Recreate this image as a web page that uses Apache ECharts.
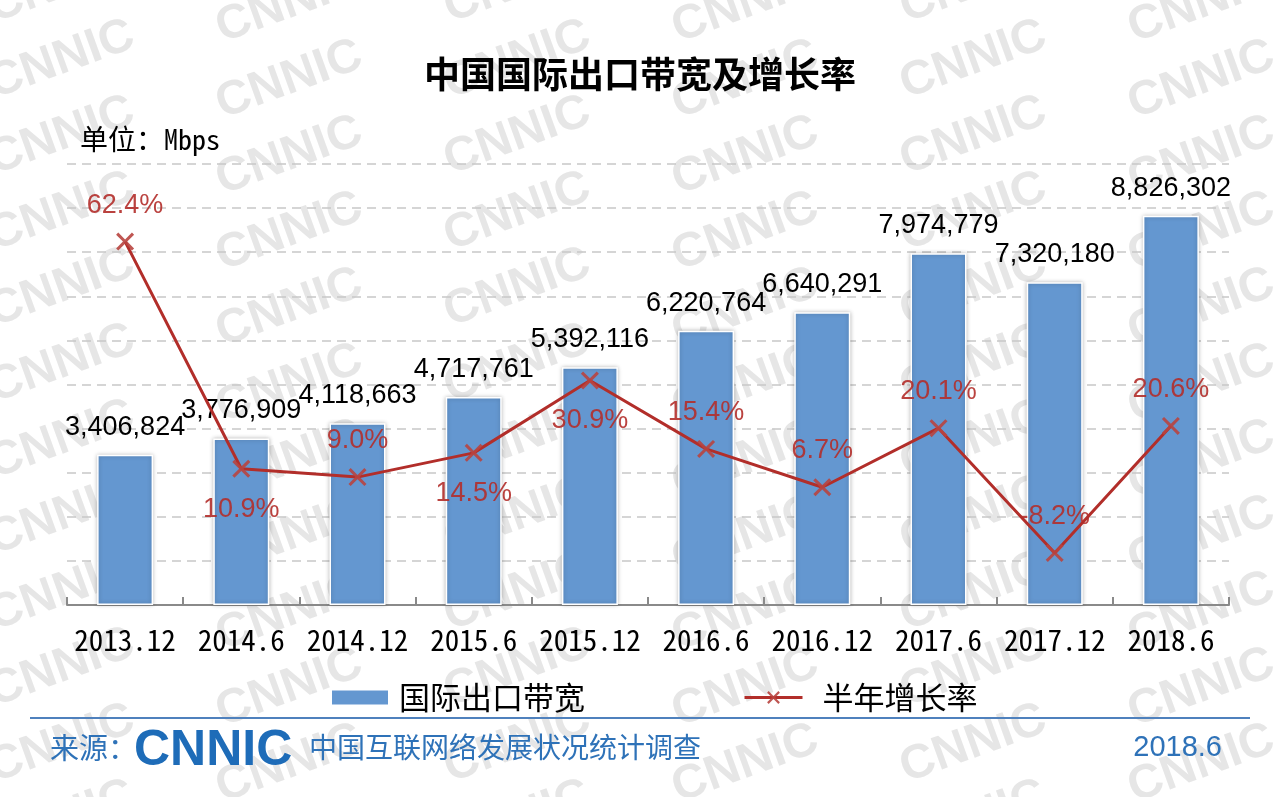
<!DOCTYPE html>
<html>
<head>
<meta charset="utf-8">
<script src="https://cdn.jsdelivr.net/npm/echarts@6/dist/echarts.min.js"></script>
<style>
html,body{margin:0;padding:0;background:#fff;}
#chart{width:1280px;height:797px;}
</style>
</head>
<body>
<div id="chart"></div>
<script>
const categories = ['2013.12','2014.6','2014.12','2015.6','2015.12','2016.6','2016.12','2017.6','2017.12','2018.6'];
const bandwidth = [3406824, 3776909, 4118663, 4717761, 5392116, 6220764, 6640291, 7974779, 7320180, 8826302];
const growth = [62.4, 10.9, 9.0, 14.5, 30.9, 15.4, 6.7, 20.1, -8.2, 20.6];
const growthBelow = [false, true, false, true, true, false, false, false, false, false];

const seriesNames = ['国际出口带宽', '半年增长率'];
const titleText = '中国国际出口带宽及增长率';
const unitText = '单位：Mbps';
const sourceLabel = '来源：';
const sourceName = '中国互联网络发展状况统计调查';
const dateText = '2018.6';

const chart = echarts.init(document.getElementById('chart'), null, {renderer: 'canvas'});

const xMark = 'path://M0,1.2 L1.2,0 L5,3.8 L8.8,0 L10,1.2 L6.2,5 L10,8.8 L8.8,10 L5,6.2 L1.2,10 L0,8.8 L3.8,5 Z';
const cjk = "'Noto Sans CJK SC', 'Noto Sans', sans-serif";
const mono = "'Noto Sans Mono CJK SC', 'Liberation Mono', 'DejaVu Sans Mono', monospace";
const latin = "'Liberation Sans', Arial, sans-serif";
const blueText = '#2E72B8';
const red = '#B22E2A';

// watermark pattern (decorative background)
const watermark = [];
for (let c = 0; c < 7; c++) {
  for (let r = 0; r < 12; r++) {
    watermark.push({
      type: 'text',
      x: -10 + c * 228,
      y: 10 + r * 76 + (c % 2) * 20,
      rotation: 0.35,
      silent: true,
      z: -10,
      style: {
        text: 'CNNIC',
        fill: '#e6e6e6',
        font: "bold 48px 'Liberation Sans', Arial, sans-serif",
        textAlign: 'left',
        textVerticalAlign: 'middle'
      }
    });
  }
}

const growthLabel = {fontFamily: latin, fontSize: 27, color: red};

const option = {
  backgroundColor: '#fff',
  animation: false,
  title: {
    text: titleText,
    left: 'center',
    top: 51,
    textStyle: {fontFamily: cjk, fontSize: 36, fontWeight: 'bold', color: '#000'}
  },
  legend: {
    top: 682,
    left: 330,
    padding: 0,
    itemWidth: 58,
    itemHeight: 16,
    itemGap: 158,
    textStyle: {fontFamily: cjk, fontSize: 31, color: '#000'},
    data: [
      {name: seriesNames[0], icon: 'rect', textStyle: {padding: [0, 0, 0, 5]}},
      {name: seriesNames[1], textStyle: {padding: [0, 0, 0, 15]}, lineStyle: {width: 3, color: red}}
    ]
  },
  grid: {left: 67, right: 51, top: 164, bottom: 192, containLabel: false},
  xAxis: {
    type: 'category',
    data: categories,
    boundaryGap: true,
    axisLine: {show: true, lineStyle: {color: '#8a8a8a', width: 2}},
    axisTick: {show: true, inside: true, length: 8, lineStyle: {color: '#8a8a8a', width: 2}},
    axisLabel: {fontFamily: mono, fontSize: 29, color: '#000', margin: 20, interval: 0}
  },
  yAxis: [
    {
      type: 'value', min: 0, max: 10000000, interval: 1000000,
      axisLine: {show: false}, axisTick: {show: false}, axisLabel: {show: false},
      splitLine: {show: true, lineStyle: {color: '#c8c8c8', width: 1.5, type: [9, 6]}}
    },
    {
      type: 'value', min: -20, max: 80, interval: 10,
      axisLine: {show: false}, axisTick: {show: false}, axisLabel: {show: false},
      splitLine: {show: false}
    }
  ],
  series: [
    {
      name: seriesNames[0],
      type: 'bar',
      yAxisIndex: 0,
      barWidth: 56,
      data: bandwidth,
      itemStyle: {
        color: '#6497D0',
        borderColor: '#ffffff',
        borderWidth: 1.5,
        shadowColor: 'rgba(0,0,0,0.25)',
        shadowBlur: 4
      },
      label: {
        show: true,
        position: 'top',
        distance: 14,
        fontFamily: latin,
        fontSize: 27,
        color: '#000',
        formatter: p => p.value.toLocaleString('en-US')
      },
      z: 2
    },
    {
      name: seriesNames[1],
      type: 'line',
      yAxisIndex: 1,
      data: growth.map((v, i) => ({
        value: v,
        label: Object.assign({
          show: true,
          position: growthBelow[i] ? 'bottom' : 'top',
          distance: growthBelow[i] ? 18 : 14,
          formatter: p => p.value.toFixed(1) + '%'
        }, growthLabel)
      })),
      symbol: xMark,
      symbolSize: 18,
      lineStyle: {color: red, width: 3},
      itemStyle: {color: '#B8443F', opacity: 0.9},
      label: Object.assign({
        show: true,
        formatter: p => p.value.toFixed(1) + '%'
      }, growthLabel),
      z: 3
    }
  ],
  graphic: watermark.concat([
    {
      type: 'text', left: 80, top: 125,
      style: {text: unitText, font: "28px " + mono, fill: '#000'}
    },
    {
      type: 'line', silent: true,
      shape: {x1: 30, y1: 718, x2: 1250, y2: 718},
      style: {stroke: '#4F81BD', lineWidth: 2}
    },
    {
      type: 'text', left: 50, top: 733,
      style: {text: sourceLabel, font: "29px " + cjk, fill: blueText}
    },
    {
      type: 'text', left: 134, top: 726,
      style: {text: 'CNNIC', font: "900 50px 'Liberation Sans', Arial, sans-serif", fill: '#1E6CB8'}
    },
    {
      type: 'text', left: 309, top: 733,
      style: {text: sourceName, font: "28px " + cjk, fill: blueText}
    },
    {
      type: 'text', right: 58, top: 733,
      style: {text: dateText, font: "29px " + latin, fill: blueText}
    }
  ])
};

chart.setOption(option);
</script>
</body>
</html>
